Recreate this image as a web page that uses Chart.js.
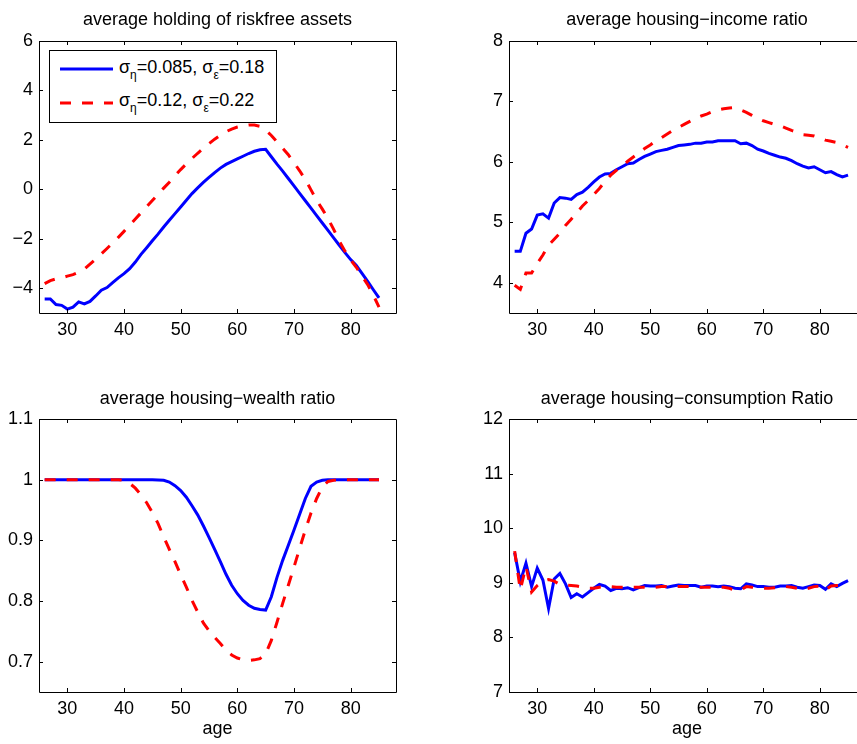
<!DOCTYPE html>
<html>
<head>
<meta charset="utf-8">
<script src="https://cdn.jsdelivr.net/npm/chart.js@4.4.1/dist/chart.umd.min.js"></script>
<style>
html, body { margin: 0; padding: 0; background: #fff; overflow: hidden; }
#fig { position: relative; width: 857px; height: 744px; overflow: hidden; font-family: "Liberation Sans", Arial, sans-serif; }
#fig canvas { position: absolute; }
#legend { position: absolute; left: 49px; top: 50px; width: 228px; height: 73px; box-sizing: border-box;
          border: 1px solid #000; background: #fff; }
#legend .txt { position: absolute; left: 69px; font-size: 18px; line-height: 20px; white-space: nowrap; color: #000; }
#legend sub { font-size: 12px; vertical-align: -6px; line-height: 0; }
#legend svg { position: absolute; left: 10px; }
</style>
</head>
<body>
<div id="fig">
  <canvas id="riskfree" width="430" height="372" style="left:0;top:0"></canvas>
  <canvas id="income" width="440" height="372" style="left:430px;top:0"></canvas>
  <canvas id="wealth" width="430" height="372" style="left:0;top:372px"></canvas>
  <canvas id="consumption" width="440" height="372" style="left:430px;top:372px"></canvas>
  <div id="legend"></div>
</div>
<script>
const ages = [26, 27, 28, 29, 30, 31, 32, 33, 34, 35,
              36, 37, 38, 39, 40, 41, 42, 43, 44, 45,
              46, 47, 48, 49, 50, 51, 52, 53, 54, 55,
              56, 57, 58, 59, 60, 61, 62, 63, 64, 65,
              66, 67, 68, 69, 70, 71, 72, 73, 74, 75,
              76, 77, 78, 79, 80, 81, 82, 83, 84, 85];

const seriesLabels = ['σ<sub>η</sub>=0.085, σ<sub>ε</sub>=0.18',
                      'σ<sub>η</sub>=0.12, σ<sub>ε</sub>=0.22'];

const riskfreeLow = [-4.43, -4.43, -4.66, -4.69, -4.84, -4.76, -4.55, -4.63, -4.53, -4.31,
                     -4.08, -3.97, -3.77, -3.58, -3.41, -3.21, -2.94, -2.63, -2.36, -2.08,
                     -1.81, -1.52, -1.25, -0.98, -0.71, -0.44, -0.17, 0.06, 0.28, 0.48,
                     0.68, 0.86, 1.01, 1.12, 1.23, 1.34, 1.45, 1.54, 1.60, 1.62,
                     1.32, 1.02, 0.74, 0.44, 0.14, -0.16, -0.46, -0.76, -1.06, -1.36,
                     -1.66, -1.96, -2.26, -2.56, -2.84, -3.08, -3.40, -3.72, -4.06, -4.39];
const riskfreeHigh = [-3.81, -3.69, -3.62, -3.58, -3.51, -3.45, -3.35, -3.22, -3.02, -2.82,
                      -2.61, -2.39, -2.17, -1.94, -1.70, -1.45, -1.20, -0.95, -0.70, -0.45,
                      -0.20, 0.05, 0.29, 0.55, 0.80, 1.03, 1.25, 1.46, 1.66, 1.85,
                      2.03, 2.19, 2.33, 2.44, 2.52, 2.57, 2.60, 2.60, 2.55, 2.40,
                      2.18, 1.92, 1.66, 1.40, 1.08, 0.75, 0.39, -0.02, -0.44, -0.80,
                      -1.18, -1.62, -2.10, -2.50, -2.85, -3.15, -3.50, -3.85, -4.28, -4.76];

const incomeLow = [4.52, 4.52, 4.82, 4.89, 5.12, 5.14, 5.07, 5.32, 5.41, 5.40,
                   5.38, 5.46, 5.50, 5.58, 5.67, 5.75, 5.80, 5.81, 5.87, 5.92,
                   5.97, 5.98, 6.04, 6.09, 6.13, 6.17, 6.19, 6.21, 6.24, 6.27,
                   6.28, 6.29, 6.31, 6.31, 6.33, 6.33, 6.35, 6.35, 6.35, 6.35,
                   6.30, 6.31, 6.27, 6.21, 6.18, 6.14, 6.11, 6.08, 6.06, 6.02,
                   5.97, 5.93, 5.90, 5.92, 5.87, 5.82, 5.84, 5.79, 5.75, 5.78];
const incomeHigh = [3.96, 3.89, 4.16, 4.16, 4.32, 4.46, 4.62, 4.72, 4.82, 4.95,
                    5.05, 5.16, 5.27, 5.36, 5.46, 5.56, 5.68, 5.78, 5.86, 5.93,
                    6.01, 6.08, 6.15, 6.22, 6.28, 6.35, 6.40, 6.46, 6.52, 6.57,
                    6.62, 6.67, 6.72, 6.76, 6.79, 6.83, 6.86, 6.88, 6.89, 6.90,
                    6.86, 6.82, 6.77, 6.72, 6.68, 6.65, 6.62, 6.60, 6.56, 6.52,
                    6.49, 6.45, 6.44, 6.43, 6.40, 6.36, 6.34, 6.32, 6.28, 6.24];

const wealthLow = [1, 1, 1, 1, 1, 1, 1, 1, 1, 1,
                   1, 1, 1, 1, 1, 1, 1, 1, 1, 1,
                   0.9995, 0.999, 0.996, 0.990, 0.982, 0.971, 0.957, 0.942, 0.924, 0.905,
                   0.885, 0.865, 0.844, 0.826, 0.812, 0.801, 0.793, 0.788, 0.786, 0.785,
                   0.807, 0.839, 0.867, 0.892, 0.917, 0.943, 0.969, 0.989, 0.996, 0.999,
                   1, 1, 1, 1, 1, 1, 1, 1, 1, 1];
const wealthHigh = [1, 1, 1, 1, 1, 1, 1, 1, 1, 1,
                    1, 1, 1, 1, 0.999, 0.994, 0.986, 0.975, 0.962, 0.946,
                    0.928, 0.906, 0.885, 0.865, 0.843, 0.823, 0.801, 0.782, 0.764, 0.751,
                    0.740, 0.730, 0.719, 0.711, 0.706, 0.703, 0.702, 0.703, 0.705, 0.713,
                    0.735, 0.765, 0.796, 0.826, 0.856, 0.887, 0.917, 0.945, 0.969, 0.988,
                    0.997, 0.999, 1, 1, 1, 1, 1, 1, 1, 1];

const consumptionLow = [9.55, 9.02, 9.36, 8.93, 9.27, 9.05, 8.53, 9.07, 9.17, 8.98,
                        8.73, 8.80, 8.74, 8.82, 8.90, 8.97, 8.94, 8.86, 8.90, 8.89,
                        8.91, 8.87, 8.91, 8.95, 8.94, 8.94, 8.95, 8.92, 8.94, 8.96,
                        8.95, 8.95, 8.95, 8.92, 8.94, 8.94, 8.93, 8.94, 8.93, 8.90,
                        8.89, 8.98, 8.96, 8.93, 8.93, 8.92, 8.92, 8.94, 8.94, 8.95,
                        8.92, 8.90, 8.93, 8.96, 8.95, 8.88, 8.98, 8.93, 8.99, 9.04];
const consumptionHigh = [9.58, 8.87, 9.30, 8.83, 8.95, 9.03, 9.06, 9.03, 8.97, 8.96,
                         8.95, 8.94, 8.92, 8.90, 8.90, 8.92, 8.93, 8.93, 8.92, 8.92,
                         8.92, 8.92, 8.92, 8.92, 8.91, 8.92, 8.93, 8.93, 8.93, 8.93,
                         8.93, 8.93, 8.92, 8.92, 8.92, 8.92, 8.92, 8.92, 8.90, 8.86,
                         8.87, 8.93, 8.92, 8.90, 8.90, 8.90, 8.91, 8.92, 8.93, 8.92,
                         8.90, 8.88, 8.90, 8.93, 8.94, 8.87, 8.94, 8.95, 8.96, 8.98];

const xTicks = [30, 40, 50, 60, 70, 80];
const riskfreeTicks = [-4, -2, 0, 2, 4, 6];
const incomeTicks = [4, 5, 6, 7, 8];
const wealthTicks = [0.7, 0.8, 0.9, 1, 1.1];
const consumptionTicks = [7, 8, 9, 10, 11, 12];

Chart.defaults.font.family = '"Liberation Sans", Arial, sans-serif';
Chart.defaults.font.size = 18;
Chart.defaults.color = '#000';

const blue = '#0000ff';
const red = '#ff0000';
const lineWidth = 3;
const dash = [11, 11];

const fmt = v => String(v).replace('-', '\u2212');

// matlab style box with inward ticks on all four sides
const boxPlugin = {
  id: 'matlabBox',
  afterDatasetsDraw(chart) {
    const {ctx, chartArea: a, scales: {x, y}} = chart;
    const r = v => Math.round(v) + 0.5;
    const len = 4;
    ctx.save();
    ctx.strokeStyle = '#000';
    ctx.lineWidth = 1;
    ctx.beginPath();
    ctx.rect(r(a.left), r(a.top), Math.round(a.right) - Math.round(a.left), Math.round(a.bottom) - Math.round(a.top));
    x.ticks.forEach(t => {
      const px = r(x.getPixelForValue(t.value));
      ctx.moveTo(px, a.bottom); ctx.lineTo(px, a.bottom - len);
      ctx.moveTo(px, a.top); ctx.lineTo(px, a.top + len);
    });
    y.ticks.forEach(t => {
      const py = r(y.getPixelForValue(t.value));
      ctx.moveTo(a.left, py); ctx.lineTo(a.left + len, py);
      ctx.moveTo(a.right, py); ctx.lineTo(a.right - len, py);
    });
    ctx.stroke();
    ctx.restore();
  }
};

function makePanel(id, titleText, low, high, yMin, yMax, yTicks, lay) {
  return new Chart(document.getElementById(id), {
    type: 'line',
    data: {
      datasets: [
        { label: 'low', data: ages.map((a, i) => ({x: a, y: low[i]})), borderColor: blue,
          borderWidth: lineWidth, pointRadius: 0, tension: 0, order: 2 },
        { label: 'high', data: ages.map((a, i) => ({x: a, y: high[i]})), borderColor: red,
          borderWidth: lineWidth, borderDash: dash, pointRadius: 0, tension: 0, order: 1 }
      ]
    },
    options: {
      responsive: false,
      animation: false,
      events: [],
      layout: { padding: lay.padding },
      plugins: {
        legend: { display: false },
        tooltip: { enabled: false },
        title: { display: true, text: titleText, fullSize: false, color: '#000',
                 font: { size: 18, weight: 'normal' }, padding: lay.titlePad }
      },
      scales: {
        x: {
          type: 'linear', min: 25, max: 88,
          grid: { display: false, drawTicks: false }, border: { display: false },
          ticks: { padding: 6, autoSkip: false, maxRotation: 0, callback: fmt },
          afterBuildTicks: s => { s.ticks = xTicks.map(v => ({value: v})); },
          afterFit: s => { s.height = lay.xH; },
          title: { display: !!lay.xTitle, text: lay.xTitle || '', color: '#000',
                   font: { size: 18 }, padding: { top: 0, bottom: 0 } }
        },
        y: {
          min: yMin, max: yMax,
          grid: { display: false, drawTicks: false }, border: { display: false },
          ticks: { padding: 6, autoSkip: false, callback: fmt },
          afterBuildTicks: s => { s.ticks = yTicks.map(v => ({value: v})); },
          afterFit: s => { s.width = 35; }
        }
      }
    },
    plugins: [boxPlugin]
  });
}

const topLeft = { padding: { left: 4, right: 34, top: 0, bottom: 29 }, titlePad: { top: 9, bottom: 10.4 }, xH: 30 };
const topRight = { padding: { left: 44, right: 5, top: 0, bottom: 29 }, titlePad: { top: 9, bottom: 10.4 }, xH: 30 };
const botLeft = { padding: { left: 4, right: 34, top: 0, bottom: 4 }, titlePad: { top: 16, bottom: 9.4 }, xH: 48, xTitle: 'age' };
const botRight = { padding: { left: 44, right: 5, top: 0, bottom: 4 }, titlePad: { top: 16, bottom: 9.4 }, xH: 48, xTitle: 'age' };

const c1 = makePanel('riskfree', 'average holding of riskfree assets', riskfreeLow, riskfreeHigh, -5, 6, riskfreeTicks, topLeft);
makePanel('income', 'average housing\u2212income ratio', incomeLow, incomeHigh, 3.5, 8, incomeTicks, topRight);
makePanel('wealth', 'average housing\u2212wealth ratio', wealthLow, wealthHigh, 0.65, 1.1, wealthTicks, botLeft);
makePanel('consumption', 'average housing\u2212consumption Ratio', consumptionLow, consumptionHigh, 7, 12, consumptionTicks, botRight);

// legend drawn in html so the subscripts stay real text
const legend = document.getElementById('legend');
const rowCenters = [18.3, 52.3];
const rowTops = [5.5, 38.8];
c1.data.datasets.forEach((ds, i) => {
  const svg = document.createElementNS('http://www.w3.org/2000/svg', 'svg');
  svg.setAttribute('width', '53');
  svg.setAttribute('height', '8');
  svg.style.top = (rowCenters[i] - 4) + 'px';
  const ln = document.createElementNS('http://www.w3.org/2000/svg', 'line');
  ln.setAttribute('x1', '0'); ln.setAttribute('y1', '4');
  ln.setAttribute('x2', '53'); ln.setAttribute('y2', '4');
  ln.setAttribute('stroke', ds.borderColor);
  ln.setAttribute('stroke-width', ds.borderWidth);
  if (ds.borderDash) ln.setAttribute('stroke-dasharray', ds.borderDash.join(' '));
  svg.appendChild(ln);
  legend.appendChild(svg);
  const txt = document.createElement('div');
  txt.className = 'txt';
  txt.style.top = rowTops[i] + 'px';
  txt.innerHTML = seriesLabels[i];
  legend.appendChild(txt);
});
</script>
</body>
</html>
